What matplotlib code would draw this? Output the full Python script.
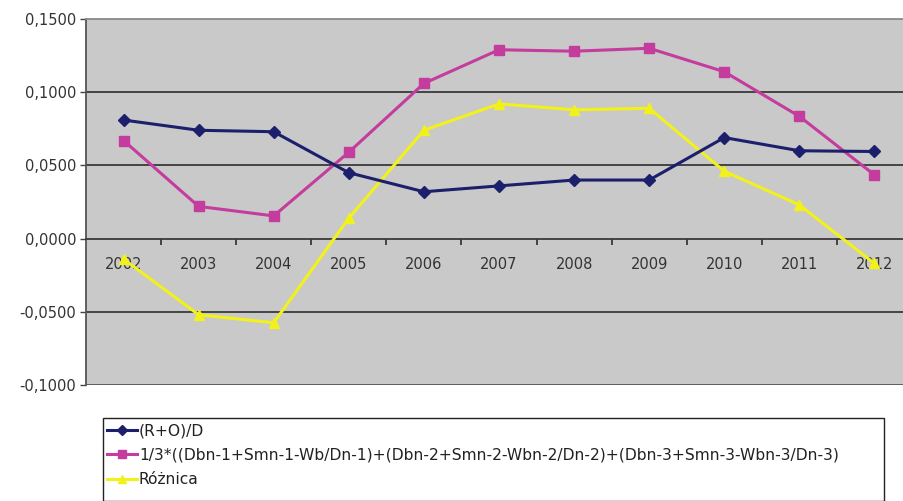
import numpy as np
import matplotlib.pyplot as plt
from matplotlib.patches import Rectangle
from matplotlib.ticker import FuncFormatter

# Dane
lata = ['2002', '2003', '2004', '2005', '2006', '2007', '2008', '2009', '2010', '2011', '2012']
ro_d = [0.081, 0.074, 0.073, 0.045, 0.032, 0.036, 0.040, 0.040, 0.069, 0.060, 0.0595]
srednia = [0.067, 0.022, 0.0155, 0.059, 0.106, 0.129, 0.128, 0.130, 0.114, 0.0835, 0.0435]
roznica = [-0.014, -0.052, -0.0575, 0.014, 0.074, 0.092, 0.088, 0.089, 0.046, 0.023, -0.017]

nazwy = ['(R+O)/D',
         '1/3*((Dbn-1+Smn-1-Wb/Dn-1)+(Dbn-2+Smn-2-Wbn-2/Dn-2)+(Dbn-3+Smn-3-Wbn-3/Dn-3)',
         'Różnica']

plt.rcParams['font.family'] = ['DejaVu Sans']

fig = plt.figure(figsize=(9.04, 5.01), dpi=100)
fig.patch.set_facecolor('white')

# obszar wykresu (prawa krawedz wychodzi poza obraz)
W, H = 904, 501
ax = fig.add_axes([86 / W, 1 - 385 / H, (912 - 86) / W, (385 - 19) / H])
ax.set_facecolor('#c9c9c9')

x = np.arange(len(lata))
l1, = ax.plot(x, ro_d, color='#1c1f6b', lw=2.2, marker='D', ms=6.5, zorder=5)
l2, = ax.plot(x, srednia, color='#c43c9e', lw=2.2, marker='s', ms=6.5, zorder=4)
l3, = ax.plot(x, roznica, color='#f2f21a', lw=2.2, marker='^', ms=7.5, zorder=3)

ax.set_xlim(-0.5, len(lata) - 0.5)
ax.set_ylim(-0.1, 0.15)
ax.set_yticks([-0.1, -0.05, 0.0, 0.05, 0.1, 0.15])
ax.yaxis.set_major_formatter(FuncFormatter(lambda v, p: f'{v:.4f}'.replace('.', ',')))
ax.tick_params(axis='y', length=4, width=1, color='#444444', labelsize=10.5,
               labelcolor='#333333', pad=3)

# linie siatki
for v in [-0.05, 0.05, 0.1]:
    ax.axhline(v, color='#3a3a3a', lw=1.3, zorder=1)
ax.axhline(-0.1, color='#555555', lw=1.3, zorder=1)

for s in ['top', 'right']:
    ax.spines[s].set_color('#8a8a8a')
    ax.spines[s].set_linewidth(1.3)
ax.spines['left'].set_color('#555555')
ax.spines['left'].set_linewidth(1.3)

# os X na wysokosci zera
ax.spines['bottom'].set_position(('data', 0))
ax.spines['bottom'].set_color('#3a3a3a')
ax.spines['bottom'].set_linewidth(1.3)
ax.set_xticks(x)
ax.set_xticklabels(lata)
ax.set_xticks(x[:-1] + 0.5, minor=True)
ax.tick_params(axis='x', which='major', length=0, pad=13, labelsize=10.5, labelcolor='#333333')
ax.tick_params(axis='x', which='minor', length=4, width=1.3, color='#3a3a3a', direction='out')

# ramka legendy
fig.patches.append(Rectangle((103 / W, 0), (884 - 103) / W, 1 - 418 / H,
                             transform=fig.transFigure, fill=False,
                             ec='#222222', lw=1.0))
leg = fig.legend([l1, l2, l3], nazwy, loc='upper left',
                 bbox_to_anchor=(104 / W, 1 - 420 / H), frameon=False,
                 fontsize=11.2, handlelength=1.9, handletextpad=0.15,
                 labelspacing=0.62, borderaxespad=0, borderpad=0.2, markerscale=0.8)
for t in leg.get_texts():
    t.set_color('#222222')

fig.savefig('out.png', dpi=100)
